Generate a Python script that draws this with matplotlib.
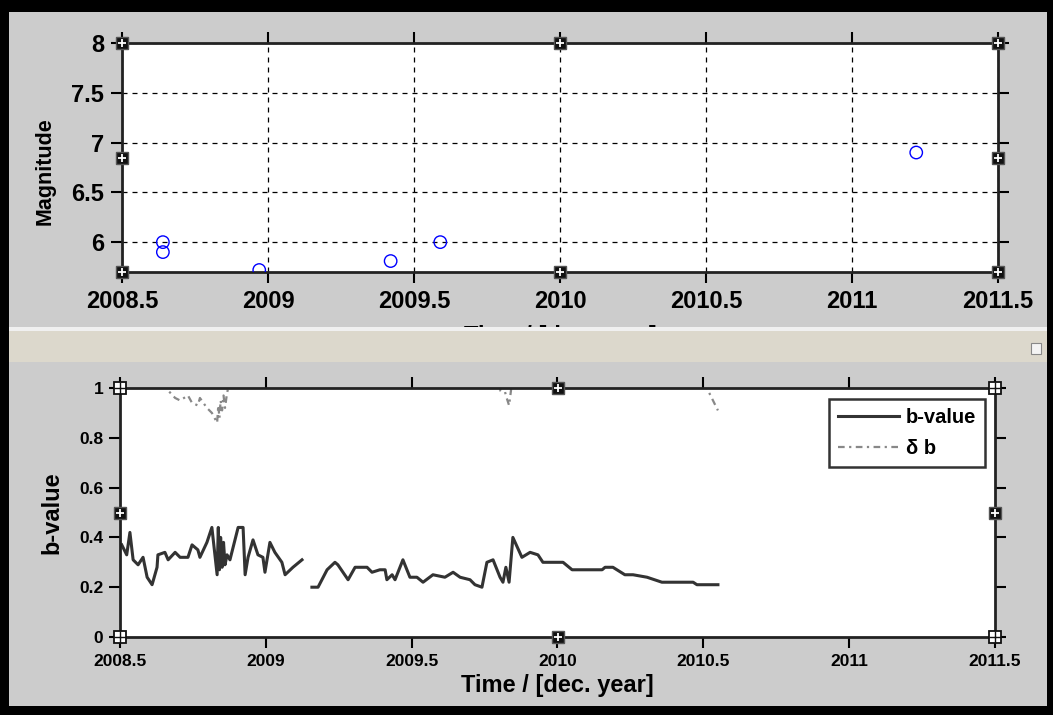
import numpy as np
import matplotlib
matplotlib.use("Agg")
import matplotlib.pyplot as plt
from matplotlib.patches import Rectangle

plt.rcParams['font.family'] = ['Liberation Sans', 'DejaVu Sans']
plt.rcParams['font.weight'] = 'bold'

# ---- event magnitudes ----
event_time = [2008.64, 2008.64, 2008.97, 2009.42, 2009.59, 2011.22]
event_mag = [6.0, 5.9, 5.72, 5.81, 6.0, 6.9]

# ---- b-value time series (NaN marks the gap in coverage) ----
b_time = [2008.506, 2008.523, 2008.534, 2008.545, 2008.562, 2008.579, 2008.593,
          2008.610, 2008.627, 2008.630, 2008.654, 2008.665, 2008.689, 2008.706,
          2008.733, 2008.747, 2008.767, 2008.774, 2008.798, 2008.815, 2008.833,
          2008.837, 2008.841, 2008.845, 2008.850, 2008.855, 2008.860, 2008.867,
          2008.877, 2008.905, 2008.922, 2008.929, 2008.939, 2008.956, 2008.973,
          2008.990, 2008.997, 2009.014, 2009.031, 2009.055, 2009.066, 2009.093,
          2009.124, 2009.140,
          2009.158, 2009.179, 2009.210, 2009.237, 2009.247, 2009.282, 2009.306,
          2009.347, 2009.364, 2009.391, 2009.409, 2009.415, 2009.433, 2009.443,
          2009.470, 2009.494, 2009.518, 2009.539, 2009.573, 2009.614, 2009.642,
          2009.666, 2009.700, 2009.717, 2009.741, 2009.758, 2009.779, 2009.803,
          2009.813, 2009.823, 2009.834, 2009.847, 2009.878, 2009.906, 2009.933,
          2009.950, 2010.019, 2010.050, 2010.153, 2010.163, 2010.190, 2010.231,
          2010.259, 2010.307, 2010.358, 2010.465, 2010.478, 2010.550]
b_value = [0.37, 0.33, 0.42, 0.31, 0.29, 0.32, 0.24,
           0.21, 0.28, 0.33, 0.34, 0.31, 0.34, 0.32,
           0.32, 0.37, 0.35, 0.32, 0.38, 0.44, 0.25,
           0.44, 0.27, 0.40, 0.28, 0.38, 0.29, 0.33,
           0.31, 0.44, 0.44, 0.25, 0.32, 0.39, 0.33,
           0.32, 0.26, 0.38, 0.34, 0.30, 0.25, 0.28,
           0.31, np.nan,
           0.20, 0.20, 0.27, 0.30, 0.29, 0.23, 0.28,
           0.28, 0.26, 0.27, 0.27, 0.23, 0.25, 0.23,
           0.31, 0.24, 0.24, 0.22, 0.25, 0.24, 0.26,
           0.24, 0.23, 0.21, 0.20, 0.30, 0.31, 0.24,
           0.22, 0.28, 0.22, 0.40, 0.32, 0.34, 0.33,
           0.30, 0.30, 0.27, 0.27, 0.28, 0.28, 0.25,
           0.25, 0.24, 0.22, 0.22, 0.21, 0.21]
b_error = [1.35, 1.30, 1.25, 1.28, 1.22, 1.20, 1.18,
           1.15, 1.12, 1.10, 1.05, 0.99, 0.96, 0.95,
           0.97, 0.94, 0.93, 0.96, 0.92, 0.90, 0.86,
           0.93, 0.88, 0.95, 0.91, 0.97, 0.92, 0.98,
           1.03, 1.08, 1.10, 1.15, 1.12, 1.18, 1.20,
           1.22, 1.25, 1.20, 1.24, 1.28, 1.30, 1.26,
           1.30, np.nan,
           1.40, 1.38, 1.30, 1.25, 1.27, 1.32, 1.28,
           1.26, 1.28, 1.25, 1.24, 1.27, 1.25, 1.28,
           1.20, 1.24, 1.22, 1.25, 1.20, 1.18, 1.15,
           1.16, 1.12, 1.10, 1.08, 1.05, 1.03, 0.99,
           1.02, 0.97, 0.93, 1.05, 1.10, 1.12, 1.15,
           1.18, 1.20, 1.22, 1.24, 1.22, 1.20, 1.18,
           1.16, 1.15, 1.12, 1.10, 1.08, 0.91]

x_ticks = [2008.5, 2009, 2009.5, 2010, 2010.5, 2011, 2011.5]
x_ticklabels = ['2008.5', '2009', '2009.5', '2010', '2010.5', '2011', '2011.5']
mag_ticks = [6, 6.5, 7, 7.5, 8]
mag_ticklabels = ['6', '6.5', '7', '7.5', '8']
b_ticks = [0, 0.2, 0.4, 0.6, 0.8, 1.0]
b_ticklabels = ['0', '0.2', '0.4', '0.6', '0.8', '1']

W, H = 1053, 715
fig = plt.figure(figsize=(W / 100, H / 100), dpi=100, facecolor='black')


def fx(px):
    return px / W


def fy(py):
    return 1 - py / H


# window background and the panel divider strip
fig.patches.append(Rectangle((fx(9), fy(706)), fx(1047) - fx(9), fy(12) - fy(706),
                             transform=fig.transFigure, facecolor='#cccccc',
                             edgecolor='none', zorder=-10))
fig.patches.append(Rectangle((fx(9), fy(362)), fx(1047) - fx(9), fy(330) - fy(362),
                             transform=fig.transFigure, facecolor='#dcd8cc',
                             edgecolor='none', zorder=10))
fig.patches.append(Rectangle((fx(9), fy(331)), fx(1047) - fx(9), fy(327) - fy(331),
                             transform=fig.transFigure, facecolor='#f0f0f0',
                             edgecolor='none', zorder=10))
fig.patches.append(Rectangle((fx(1031), fy(354)), fx(10), fy(0) - fy(11),
                             transform=fig.transFigure, facecolor='#f4f4f4',
                             edgecolor='#888888', lw=0.8, zorder=11))


def style_axes(ax, fsize, pad):
    ax.set_facecolor('white')
    for s in ax.spines.values():
        s.set_linewidth(2.0)
        s.set_color('#222222')
    ax.tick_params(direction='out', length=8, width=1.5, color='black',
                   top=True, right=True, labelsize=fsize, pad=pad)
    for lab in ax.get_xticklabels() + ax.get_yticklabels():
        lab.set_fontweight('bold')


def handles(ax, kind):
    xs = [0, 0.5, 1, 0, 1, 0, 0.5, 1]
    ys = [1, 1, 1, 0.5, 0.5, 0, 0, 0]
    for x, y in zip(xs, ys):
        corner = (x != 0.5 and y != 0.5)
        if kind == 'dark' or not corner:
            ax.plot(x, y, marker='s', ms=8, mfc='#111111', mec='#555555',
                    transform=ax.transAxes, clip_on=False, zorder=20)
            ax.plot(x, y, marker='+', ms=6, mec='white', mew=1.3,
                    transform=ax.transAxes, clip_on=False, zorder=21)
        else:
            ax.plot(x, y, marker='s', ms=8, mfc='white', mec='#111111',
                    mew=1.3, transform=ax.transAxes, clip_on=False, zorder=20)
            ax.plot(x, y, marker='+', ms=8, mec='#111111', mew=1.0,
                    transform=ax.transAxes, clip_on=False, zorder=21)


# ---- top: magnitude vs time ----
ax1 = fig.add_axes([fx(122), fy(272), fx(998) - fx(122), fy(43) - fy(272)])
ax1.scatter(event_time, event_mag, s=80, facecolors='none', edgecolors='blue',
            linewidths=1.0, zorder=5)
ax1.set_xlim(2008.5, 2011.5)
ax1.set_ylim(5.7, 8)
ax1.set_xticks(x_ticks)
ax1.set_xticklabels(x_ticklabels)
ax1.set_yticks(mag_ticks)
ax1.set_yticklabels(mag_ticklabels)
ax1.grid(True, color='black', linestyle=(0, (4, 4)), linewidth=0.9)
ax1.set_ylabel('Magnitude', fontsize=15.5, fontweight='bold')
ax1.yaxis.set_label_coords((56 - 122) / 876, 0.44)
ax1.set_xlabel('Time / [dec. year]', fontsize=17, fontweight='bold', labelpad=8.5)
style_axes(ax1, 17, 5)
handles(ax1, 'dark')

# ---- bottom: b-value vs time ----
ax2 = fig.add_axes([fx(120), fy(637), fx(995) - fx(120), fy(388) - fy(637)])
ax2.plot(b_time, b_value, color='#333333', lw=2.2, label='b-value')
ax2.plot(b_time, b_error, color='#888888', lw=1.6, linestyle=(0, (3, 2, 1, 2)),
         label='δ b')
ax2.set_xlim(2008.5, 2011.5)
ax2.set_ylim(0, 1)
ax2.set_xticks(x_ticks)
ax2.set_xticklabels(x_ticklabels)
ax2.set_yticks(b_ticks)
ax2.set_yticklabels(b_ticklabels)
ax2.set_ylabel('b-value', fontsize=17, fontweight='bold')
ax2.yaxis.set_label_coords((63 - 120) / 875, 0.5)
ax2.set_xlabel('Time / [dec. year]', fontsize=17, fontweight='bold', labelpad=4)
style_axes(ax2, 12.5, 4)
leg = ax2.legend(loc='upper right', bbox_to_anchor=(0.9886, 0.957), fontsize=14.5,
                 frameon=True, fancybox=False, handlelength=3.0, borderpad=0.45,
                 labelspacing=0.6, handletextpad=0.35, borderaxespad=0)
leg.get_frame().set_edgecolor('black')
leg.get_frame().set_linewidth(1.8)
for t in leg.get_texts():
    t.set_fontweight('bold')
handles(ax2, 'light')

fig.savefig('out.png', dpi=100, facecolor=fig.get_facecolor())
